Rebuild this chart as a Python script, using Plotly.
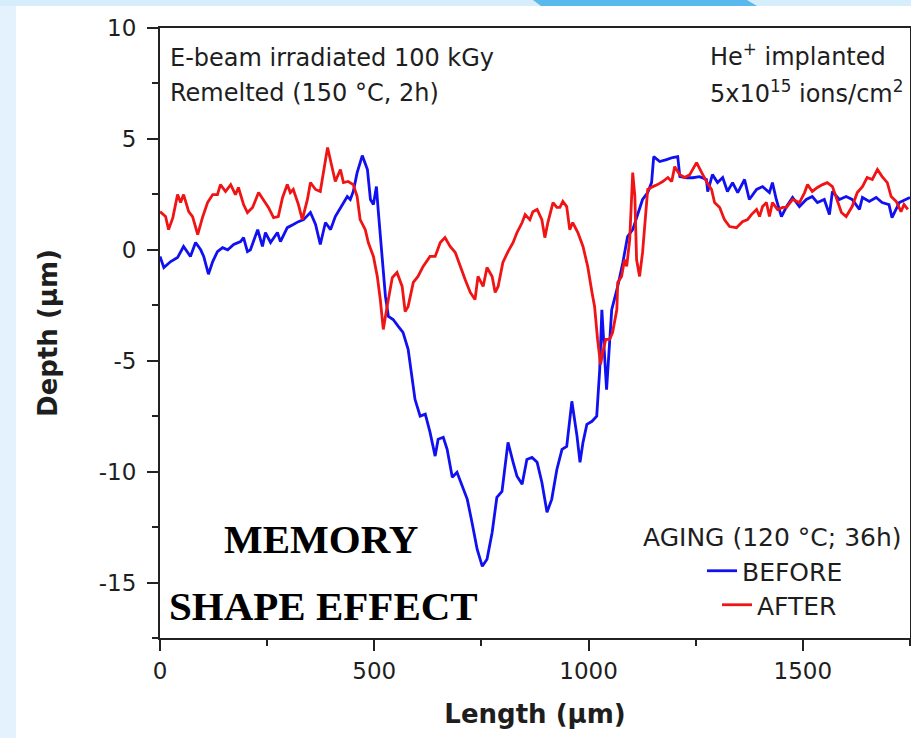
import plotly.graph_objects as go

# ---------------- data ----------------
before_x = [0, 9, 25, 41, 55, 71, 83, 95, 102, 113, 123, 134, 146, 158, 172, 188, 195, 204, 211, 228,
            239, 246, 258, 274, 281, 297, 311, 323, 335, 351, 363, 374, 386, 398, 409, 425, 437, 444, 451, 460,
            472, 484, 491, 498, 505, 509, 521, 526, 533, 544, 556, 567, 579, 588, 595, 607, 619, 630, 642, 649,
            661, 670, 682, 693, 705, 717, 728, 740, 752, 763, 775, 786, 798, 805, 812, 824, 833, 845, 856, 868,
            880, 891, 903, 914, 926, 938, 949, 961, 973, 980, 987, 996, 1008, 1019, 1026, 1031, 1042, 1054, 1068, 1080,
            1091, 1103, 1115, 1126, 1138, 1147, 1152, 1166, 1182, 1196, 1208, 1213, 1229, 1243, 1259, 1275, 1278, 1289, 1301, 1313,
            1324, 1336, 1348, 1364, 1375, 1392, 1406, 1422, 1429, 1438, 1450, 1462, 1476, 1492, 1508, 1522, 1534, 1550, 1562, 1569,
            1585, 1601, 1615, 1632, 1639, 1655, 1671, 1685, 1701, 1708, 1725, 1741, 1750]
before_y = [-0.3, -0.8, -0.53, -0.35, 0.15, -0.3, 0.33, 0.0, -0.3, -1.1, -0.53, -0.08, 0.1, 0.0, 0.24, 0.37, 0.55, -0.08, 0.0, 0.91,
            0.15, 0.78, 0.33, 0.78, 0.37, 1.0, 1.14, 1.27, 1.36, 1.68, 1.14, 0.24, 1.23, 0.91, 1.5, 2.04, 2.4, 2.27, 2.63, 3.48,
            4.25, 3.62, 2.27, 2.04, 2.85, 1.82, -0.75, -2.1, -3.0, -3.14, -3.45, -3.72, -4.49, -5.84, -6.74, -7.5, -7.41, -8.22, -9.3, -8.54,
            -8.45, -8.99, -10.25, -10.03, -10.66, -11.25, -12.29, -13.5, -14.27, -13.95, -12.74, -11.16, -10.89, -9.81, -8.68, -9.58, -10.21, -10.57, -9.45, -9.36,
            -9.58, -10.48, -11.83, -11.25, -9.9, -9.0, -8.86, -6.83, -8.4, -9.58, -8.68, -7.87, -7.73, -7.5, -5.4, -2.7, -6.3, -2.7, -1.65, -0.57,
            0.6, 0.91, 1.68, 2.27, 2.58, 3.03, 4.2, 3.98, 4.07, 4.16, 4.2, 3.3, 3.25, 3.25, 3.3, 3.17, 2.62, 3.39, 3.03, 3.26,
            2.63, 3.03, 2.58, 3.17, 2.27, 2.72, 2.85, 2.58, 3.03, 2.27, 1.5, 1.95, 2.36, 1.95, 2.27, 2.4, 2.13, 2.27, 1.59, 2.63,
            2.27, 2.4, 2.27, 1.82, 2.36, 2.18, 2.36, 2.13, 2.04, 1.45, 2.13, 2.27, 2.36]

after_x = [0, 13, 20, 30, 41, 48, 55, 67, 76, 88, 99, 111, 123, 134, 141, 153, 165, 176, 183, 195,
           204, 216, 230, 241, 253, 265, 276, 286, 297, 304, 311, 323, 332, 344, 351, 363, 374, 391, 402, 409,
           421, 428, 439, 451, 460, 467, 479, 486, 498, 507, 514, 521, 530, 542, 553, 565, 572, 579, 591, 602,
           614, 630, 642, 654, 665, 677, 689, 700, 712, 724, 735, 742, 754, 763, 775, 782, 789, 800, 812, 824,
           833, 845, 852, 863, 870, 880, 891, 898, 905, 917, 926, 933, 940, 949, 956, 963, 975, 987, 998, 1008,
           1014, 1021, 1028, 1033, 1040, 1049, 1056, 1066, 1068, 1077, 1084, 1089, 1096, 1103, 1108, 1112, 1119, 1126, 1133, 1138,
           1150, 1161, 1173, 1185, 1194, 1201, 1213, 1224, 1236, 1252, 1264, 1275, 1287, 1294, 1306, 1317, 1329, 1345, 1359, 1371,
           1380, 1392, 1399, 1406, 1415, 1422, 1429, 1441, 1453, 1462, 1476, 1492, 1504, 1511, 1522, 1534, 1546, 1557, 1569, 1578,
           1590, 1601, 1615, 1627, 1639, 1650, 1662, 1674, 1685, 1697, 1706, 1718, 1729, 1736, 1745]
after_y = [1.72, 1.5, 0.91, 1.45, 2.49, 2.13, 2.49, 1.72, 1.5, 0.69, 1.45, 2.13, 2.49, 2.49, 2.94, 2.63, 2.94, 2.49, 2.81, 2.04,
           1.68, 1.91, 2.58, 2.27, 1.91, 1.45, 1.5, 2.36, 2.94, 2.58, 2.72, 2.04, 1.36, 2.27, 3.03, 2.72, 2.63, 4.61, 3.62, 3.08,
           3.62, 3.03, 3.08, 2.94, 2.4, 1.36, 0.91, 0.33, -0.3, -1.2, -2.24, -3.59, -2.55, -1.25, -1.02, -1.65, -2.78, -2.55, -1.47, -1.2,
           -0.75, -0.3, -0.3, 0.33, 0.55, 0.15, -0.12, -0.75, -1.34, -1.92, -2.24, -1.2, -1.65, -0.8, -1.2, -1.92, -1.65, -0.57, -0.08, 0.33,
           0.78, 1.23, 1.59, 1.36, 1.72, 1.82, 1.36, 0.55, 1.23, 2.13, 1.91, 1.91, 2.18, 1.95, 0.91, 1.23, 0.78, 0.15, -0.75, -1.92,
           -2.55, -4.04, -5.17, -4.63, -4.04, -4.04, -3.73, -2.69, -1.47, -1.2, -0.44, -0.75, 0.46, 3.48, 2.4, -0.44, -1.2, -0.12, 1.36, 2.72,
           2.85, 2.94, 3.08, 3.26, 3.08, 3.75, 3.39, 3.26, 3.39, 3.93, 3.48, 3.08, 2.72, 2.13, 1.91, 1.36, 1.05, 1.0, 1.27, 1.36,
           1.59, 1.82, 1.5, 1.95, 2.13, 1.5, 2.13, 1.82, 1.91, 1.91, 2.27, 2.13, 2.58, 2.94, 2.63, 2.81, 2.94, 3.03, 2.85, 2.36,
           1.68, 1.5, 1.95, 2.58, 2.85, 3.26, 3.17, 3.62, 3.3, 3.03, 2.4, 2.18, 1.72, 2.04, 1.82]

x_ticks = [0, 500, 1000, 1500]
y_ticks = [-15, -10, -5, 0, 5, 10]

SANS = "DejaVu Sans"
TXT = "#1e1e1e"
AX = "#222222"

fig = go.Figure()
fig.add_trace(go.Scatter(x=before_x, y=before_y, mode="lines", name="BEFORE", showlegend=True,
                         line=dict(color="#1010f0", width=2.8), legend="legend"))
fig.add_trace(go.Scatter(x=after_x, y=after_y, mode="lines", name="AFTER", showlegend=True,
                         line=dict(color="#f01414", width=2.8), legend="legend2"))

axis_common = dict(showgrid=False, zeroline=False, showline=True, linecolor=AX, linewidth=2,
                   mirror=True, ticks="outside", ticklen=11, tickwidth=2, tickcolor=AX,
                   tickfont=dict(family=SANS, size=23, color=TXT))

fig.update_xaxes(range=[0, 1750], tickvals=x_ticks, ticktext=[str(v) for v in x_ticks],
                 minor=dict(tickvals=[250, 750, 1250, 1750], ticks="outside", ticklen=6, tickwidth=2, tickcolor=AX),
                 title=dict(text="Length (μm)", standoff=22,
                            font=dict(family=SANS, size=26, color=TXT, weight="bold")),
                 **axis_common)
fig.update_yaxes(range=[-17.5, 10], tickvals=y_ticks, ticktext=[str(v) for v in y_ticks],
                 minor=dict(tickvals=[-17.5, -12.5, -7.5, -2.5, 2.5, 7.5], ticks="outside", ticklen=6, tickwidth=2, tickcolor=AX),
                 ticklabelstandoff=6,
                 title=dict(text="Depth (μm)", standoff=34,
                            font=dict(family=SANS, size=26, color=TXT, weight="bold")),
                 **axis_common)

def px2x(px):
    return (px - 160) / 750.0

def px2y(py):
    return (638 - py) / 610.0

ann_font = dict(family=SANS, size=24, color=TXT)
annotations = [
    dict(text="E-beam irradiated 100 kGy", x=px2x(168), y=px2y(58), xanchor="left", yanchor="middle", font=ann_font),
    dict(text="Remelted (150 °C, 2h)", x=px2x(168), y=px2y(93), xanchor="left", yanchor="middle", font=ann_font),
    dict(text="He<sup>+</sup> implanted", x=px2x(708), y=px2y(55), xanchor="left", yanchor="middle", font=ann_font),
    dict(text="5x10<sup>15</sup> ions/cm<sup>2</sup>", x=px2x(708), y=px2y(92), xanchor="left", yanchor="middle", font=ann_font),
    dict(text="MEMORY", x=px2x(321), y=px2y(539), xanchor="center", yanchor="middle",
         font=dict(family="Liberation Serif", size=41, color="#000000", weight="bold")),
    dict(text="SHAPE EFFECT", x=px2x(323), y=px2y(606), xanchor="center", yanchor="middle",
         font=dict(family="Liberation Serif", size=41, color="#000000", weight="bold")),
    dict(text="AGING (120 °C; 36h)", x=px2x(904), y=px2y(537), xanchor="right", yanchor="middle",
         font=dict(family=SANS, size=25, color=TXT)),
]
for a in annotations:
    a.update(xref="paper", yref="paper", showarrow=False)

LB = "#e4f2fd"
shapes = [
    dict(type="rect", xref="paper", yref="paper", x0=px2x(0), x1=px2x(16), y0=px2y(738), y1=px2y(0),
         fillcolor=LB, line=dict(width=0), layer="below"),
    dict(type="rect", xref="paper", yref="paper", x0=px2x(0), x1=px2x(911), y0=px2y(6), y1=px2y(0),
         fillcolor="#d6edfc", line=dict(width=0), layer="below"),
    dict(type="path", xref="paper", yref="paper",
         path="M {},{} L {},{} L {},{} L {},{} Z".format(px2x(533), px2y(0), px2x(747), px2y(0),
                                                         px2x(757), px2y(6), px2x(541), px2y(6)),
         fillcolor="#5ab9ec", line=dict(width=0), layer="below"),
]

leg_font = dict(family=SANS, size=25, color=TXT)
fig.update_layout(
    width=911, height=738,
    showlegend=True,
    margin=dict(l=160, r=1, t=28, b=100, autoexpand=False),
    paper_bgcolor="#ffffff", plot_bgcolor="#ffffff",
    annotations=annotations, shapes=shapes,
    legend=dict(x=px2x(702), y=px2y(571), xanchor="left", yanchor="middle",
                bgcolor="rgba(0,0,0,0)", font=leg_font, itemwidth=30),
    legend2=dict(x=px2x(717), y=px2y(605), xanchor="left", yanchor="middle",
                 bgcolor="rgba(0,0,0,0)", font=leg_font, itemwidth=30),
)

fig.write_html("out.html")
